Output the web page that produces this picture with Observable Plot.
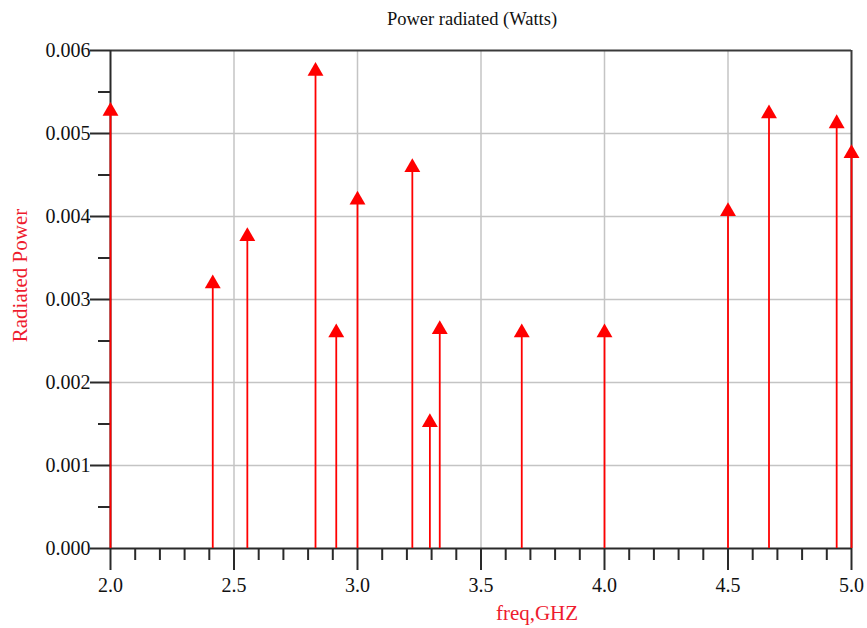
<!DOCTYPE html>
<html>
<head>
<meta charset="utf-8">
<script src="https://cdn.jsdelivr.net/npm/d3@7"></script>
<script src="https://cdn.jsdelivr.net/npm/@observablehq/plot@0.6"></script>
<style>
  html, body { margin: 0; padding: 0; background: #fff; }
</style>
</head>
<body>
<div id="chart"></div>
<script>
// Data
const freqs = [2.0, 2.414, 2.554, 2.83, 2.914, 3.0, 3.222, 3.293, 3.333, 3.665, 4.0, 4.5, 4.666, 4.94, 5.0];
const power = [0.00527, 0.00319, 0.00376, 0.00575, 0.00260, 0.00420, 0.00459, 0.00152, 0.00264, 0.00260, 0.00260, 0.00406, 0.00524, 0.00512, 0.00476];

// Tick labels / positions
const xMajor = [2.0, 2.5, 3.0, 3.5, 4.0, 4.5, 5.0];
const xMinor = [2.1, 2.2, 2.3, 2.4, 2.6, 2.7, 2.8, 2.9, 3.1, 3.2, 3.3, 3.4, 3.6, 3.7, 3.8, 3.9, 4.1, 4.2, 4.3, 4.4, 4.6, 4.7, 4.8, 4.9];
const yMajor = [0.000, 0.001, 0.002, 0.003, 0.004, 0.005, 0.006];
const yMinor = [0.0005, 0.0015, 0.0025, 0.0035, 0.0045, 0.0055];
const xGrid = [2.5, 3.0, 3.5, 4.0, 4.5];
const yGrid = [0.001, 0.002, 0.003, 0.004, 0.005];

const titleText = "Power radiated (Watts)";
const xLabel = "freq,GHZ";
const yLabel = "Radiated Power";

const data = freqs.map((f, i) => ({ freq: f, power: power[i] }));

const red = "#ff0000";
const labelRed = "#ee1c2e";
const axisColor = "#2a2a2a";
const font = "'Liberation Serif', 'Times New Roman', serif";

const chart = Plot.plot({
  width: 867,
  height: 628,
  marginLeft: 110,
  marginRight: 16,
  marginTop: 50,
  marginBottom: 80,
  style: { fontFamily: font, fontSize: "20px", background: "#fff", overflow: "visible" },
  x: { domain: [2, 5] },
  y: { domain: [0, 0.006] },
  marks: [
    Plot.gridX(xGrid, { stroke: "#c4c4c4", strokeOpacity: 1, strokeWidth: 1.5 }),
    Plot.gridY(yGrid, { stroke: "#c4c4c4", strokeOpacity: 1, strokeWidth: 1.5 }),
    // frame: top and right
    Plot.ruleY([0.006], { stroke: "#3a3a3a", strokeWidth: 2 }),
    Plot.ruleX([5], { stroke: "#3a3a3a", strokeWidth: 2 }),
    // axes lines
    Plot.ruleY([0], { stroke: axisColor, strokeWidth: 2 }),
    Plot.ruleX([2], { stroke: axisColor, strokeWidth: 2 }),
    // x axis
    Plot.axisX(xMinor, { tickSize: 12, text: null, stroke: axisColor, strokeWidth: 2, label: null }),
    Plot.axisX(xMajor, { tickSize: 22, tickPadding: 7, tickFormat: d => d.toFixed(1), stroke: axisColor, strokeWidth: 2, fill: "#111", fontSize: 20, label: null }),
    // y axis
    Plot.axisY(yMinor, { tickSize: 12, text: null, stroke: axisColor, strokeWidth: 2, label: null }),
    Plot.axisY(yMajor, { tickSize: 20, tickPadding: 0, tickFormat: d => d.toFixed(3), stroke: axisColor, strokeWidth: 2, fill: "#111", fontSize: 20, label: null }),
    // stems
    Plot.ruleX(data, { x: "freq", y1: 0, y2: "power", stroke: red, strokeWidth: 1.8 }),
    // triangle markers
    Plot.dot(data, { x: "freq", y: "power", symbol: "triangle", r: 5.9, fill: red, stroke: "none" }),
    // title
    Plot.text([titleText], { frameAnchor: "top", dx: -9, dy: -26, lineAnchor: "bottom", fontSize: 18.5, fill: "#111" }),
    // x label
    Plot.text([xLabel], { frameAnchor: "bottom", dx: 56, dy: 71, lineAnchor: "bottom", fontSize: 21, fill: labelRed }),
    // y label
    Plot.text([yLabel], { frameAnchor: "left", dx: -90, dy: -24, rotate: -90, textAnchor: "middle", fontSize: 21, fill: labelRed })
  ]
});

document.getElementById("chart").appendChild(chart);
</script>
</body>
</html>
